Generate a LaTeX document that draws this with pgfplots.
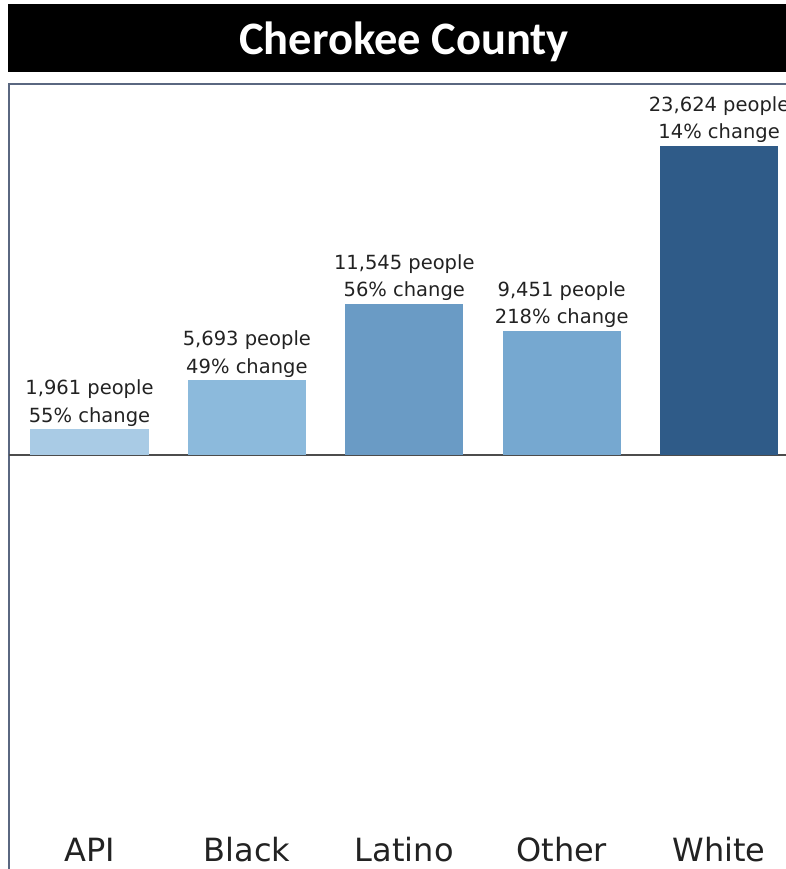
\documentclass[border=0pt]{standalone}
\usepackage{fontspec}
\setmainfont{DejaVu Sans}
\newfontfamily\titlefont{Carlito}
\usepackage{pgfplots}
\pgfplotsset{compat=1.18}

\definecolor{cAPI}{HTML}{A9CBE5}
\definecolor{cBlack}{HTML}{8CBADC}
\definecolor{cLatino}{HTML}{6A9BC5}
\definecolor{cOther}{HTML}{76A8D0}
\definecolor{cWhite}{HTML}{2F5B88}
\definecolor{frameC}{HTML}{5A6780}
\definecolor{txt}{HTML}{222222}

\begin{document}
\begin{tikzpicture}[x=1pt,y=1pt]
\path[use as bounding box] (0,0) rectangle (786,869);
\clip (0,0) rectangle (786,869);
% title bar
\fill[black] (8,797) rectangle (800,865);
\node[anchor=base, text=white, inner sep=0pt,
      font=\titlefont\bfseries\fontsize{46.5}{52}\selectfont] at (404,814.5) {Cherokee County};

\begin{axis}[
    at={(9pt,785pt)}, anchor=north west,
    scale only axis,
    width=791pt, height=788pt,
    xmin=-0.5114, xmax=4.514,
    ymin=-31849, ymax=28336,
    axis line style={draw=frameC, line width=2pt},
    ybar, bar width=0.75, bar shift=0pt,
    xtick={0,1,2,3,4},
    xticklabels={API,Black,Latino,Other,White},
    ytick=\empty,
    major tick length=0pt,
    extra y ticks={0},
    extra y tick labels={},
    extra y tick style={grid=major, major grid style={draw=black!70, line width=2pt}},
    xticklabel style={anchor=base, yshift=10pt, text=txt,
        font=\fontsize{32}{36}\selectfont},
    point meta=explicit symbolic,
    nodes near coords,
    every node near coord/.append style={align=center, anchor=south,
        inner sep=0pt, yshift=3pt, text=txt,
        font=\fontsize{19.5}{27.3}\selectfont},
]
\addplot[fill=cAPI, draw=none] coordinates {(0,1961) [{1,961 people\\55\% change}]};
\addplot[fill=cBlack, draw=none] coordinates {(1,5693) [{5,693 people\\49\% change}]};
\addplot[fill=cLatino, draw=none] coordinates {(2,11545) [{11,545 people\\56\% change}]};
\addplot[fill=cOther, draw=none] coordinates {(3,9451) [{9,451 people\\218\% change}]};
\addplot[fill=cWhite, draw=none] coordinates {(4,23624) [{23,624 people\\14\% change}]};
\end{axis}
\end{tikzpicture}
\end{document}
